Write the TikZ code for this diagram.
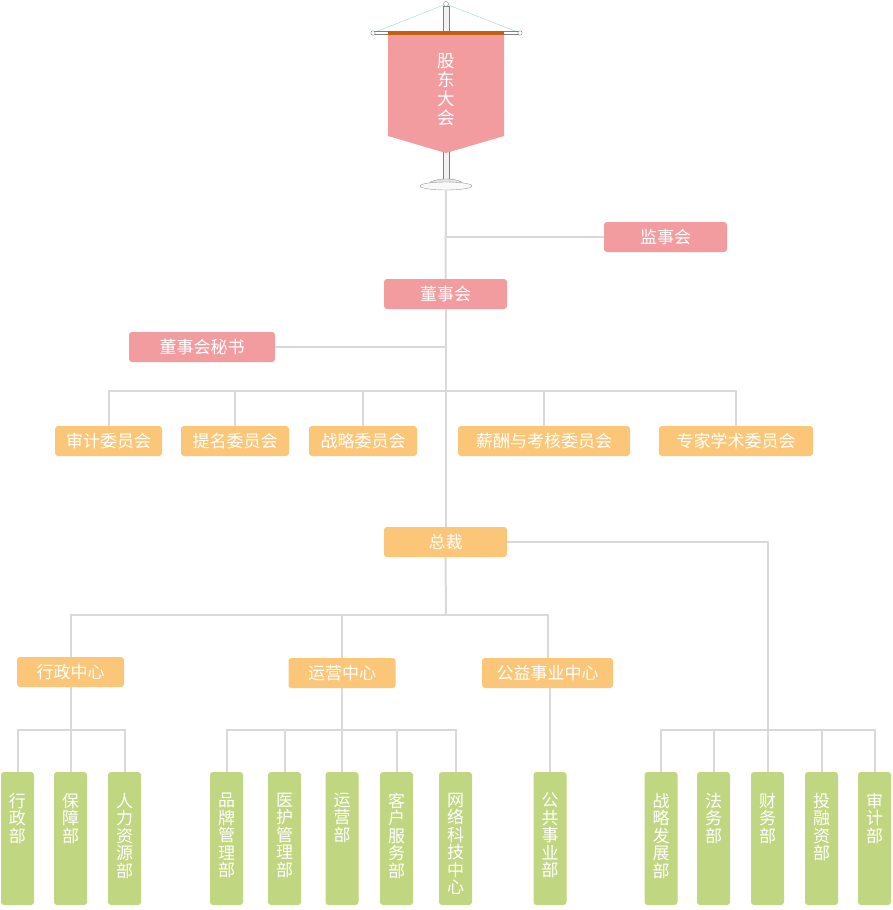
\documentclass[tikz,border=0pt]{standalone}
\usepackage{fontspec}
\newfontfamily\cjk{Noto Sans CJK SC}

\definecolor{dongpink}{HTML}{F29C9F}
\definecolor{weiorange}{HTML}{FBC677}
\definecolor{bugreen}{HTML}{C0D680}
\definecolor{linegray}{HTML}{D9D9D9}
\definecolor{barbrown}{HTML}{C3600F}
\definecolor{ropegreen}{HTML}{9FD8C0}

\newcommand{\vtxt}[1]{\parbox[c][133pt][t]{33pt}{\centering\vspace*{21pt}#1}}

\tikzset{
 box/.style={rounded corners=3pt, inner sep=0pt, minimum height=30pt, text=white,
   font=\cjk\fontsize{17}{17.5}\selectfont},
 pinkbox/.style={box, fill=dongpink},
 orangebox/.style={box, fill=weiorange},
 greenbox/.style={box, fill=bugreen, minimum width=33pt},
 link/.style={draw=linegray, line width=2pt},
}

\begin{document}
\begin{tikzpicture}[x=1pt,y=-1pt]
 \useasboundingbox (0,0) rectangle (893,910);
 %旗
 \draw[ropegreen, thin] (373,33) -- (446,4) -- (520,33);
 \draw[gray, fill=gray!10] (443,6) rectangle (449,182); %旗竿
 \draw[gray, fill=white] (446,4) circle (2.5);
 \draw[gray, fill=white] (374,31.5) rectangle (519,34.5);
 \draw[gray, fill=white] (373,33) circle (2.2) (520,33) circle (2.2);
 \fill[dongpink] (388,34) -- (504,34) -- (504,136) -- (446,153) -- (388,136) -- cycle;
 \fill[barbrown] (388,31) rectangle (504,34.5);
 \node[text=white, font=\cjk\fontsize{17.5}{19}\selectfont, align=center]
   (gudong) at (446,90) {股\\东\\大\\会};
 \draw[gray!80, fill=gray!20] (428,185) .. controls (430,177) and (462,177) .. (464,185);
 \draw[gray!80, fill=gray!5] (446,186) ellipse (26 and 4); %底座
 \coordinate (base) at (446,190);

 %董事会
 \node[pinkbox, minimum width=123pt] (jianshi) at (665.5,237) {监事会};
 \node[pinkbox, minimum width=123pt] (dongshi) at (445.5,294) {董事会};
 \node[pinkbox, minimum width=146pt] (mishu) at (202,347) {董事会秘书};
 \node[orangebox, minimum width=107pt] (shenji) at (108.5,441) {审计委员会};
 \node[orangebox, minimum width=108pt] (timing) at (235,441) {提名委员会};
 \node[orangebox, minimum width=108pt] (zhanlue) at (363,441) {战略委员会};
 \node[orangebox, minimum width=172pt] (xinchou) at (544,441) {薪酬与考核委员会};
 \node[orangebox, minimum width=154pt] (zhuanjia) at (736,441) {专家学术委员会};

 %总裁
 \node[orangebox, minimum width=123pt] (zongcai) at (445.5,542) {总裁};
 \node[orangebox, minimum width=107pt] (xingzheng) at (70.5,672) {行政中心};
 \node[orangebox, minimum width=107pt] (yunying) at (342,673) {运营中心};
 \node[orangebox, minimum width=131pt] (gongyi) at (547.5,673) {公益事业中心};

 %部门
 \node[greenbox] (xzb) at (17.5,838.5) {\vtxt{行\\政\\部}};
 \node[greenbox] (baozhang) at (70.5,838.5) {\vtxt{保\\障\\部}};
 \node[greenbox] (renli) at (124.5,838.5) {\vtxt{人\\力\\资\\源\\部}};
 \node[greenbox] (pinpai) at (226.5,838.5) {\vtxt{品\\牌\\管\\理\\部}};
 \node[greenbox] (yihu) at (284.5,838.5) {\vtxt{医\\护\\管\\理\\部}};
 \node[greenbox] (yyb) at (342,838.5) {\vtxt{运\\营\\部}};
 \node[greenbox] (kehu) at (396.5,838.5) {\vtxt{客\\户\\服\\务\\部}};
 \node[greenbox] (wangluo) at (455.5,838.5) {\vtxt{网\\络\\科\\技\\中\\心}};
 \node[greenbox] (gonggong) at (550,838.5) {\vtxt{公\\共\\事\\业\\部}};
 \node[greenbox] (zlfz) at (661,838.5) {\vtxt{战\\略\\发\\展\\部}};
 \node[greenbox] (fawu) at (713.5,838.5) {\vtxt{法\\务\\部}};
 \node[greenbox] (caiwu) at (767.5,838.5) {\vtxt{财\\务\\部}};
 \node[greenbox] (touzi) at (821.5,838.5) {\vtxt{投\\融\\资\\部}};
 \node[greenbox] (shenjibu) at (874.5,838.5) {\vtxt{审\\计\\部}};

 %连线
 \draw[link] (base) -- (dongshi.north);
 \draw[link] (jianshi.west) -- (jianshi.west -| base);
 \draw[link] (dongshi.south) -- (zongcai.north);
 \draw[link] (mishu.east) -- (mishu.east -| dongshi.south);
 \draw[link] (shenji.north) -- ++(0,-35) -| (zhuanjia.north);
 \foreach \n in {timing,zhanlue,xinchou} \draw[link] (\n.north) -- ++(0,-35);
 \coordinate (hub) at (446,615);
 \draw[link] (zongcai.south) -- (hub);
 \draw[link] (xingzheng.north) |- (hub) -| (gongyi.north);
 \draw[link] (yunying.north) -- (yunying.north |- hub);
 \draw[link] (zongcai.east) -| (caiwu.north);
 \draw[link] (xingzheng.south) -- (baozhang.north);
 \draw[link] (xzb.north) -- ++(0,-42) -| (renli.north);
 \draw[link] (yunying.south) -- (yyb.north);
 \draw[link] (pinpai.north) -- ++(0,-42) -| (wangluo.north);
 \foreach \n in {yihu,kehu} \draw[link] (\n.north) -- ++(0,-42);
 \draw[link] (gonggong.north) -- (gonggong.north |- gongyi.south);
 \draw[link] (zlfz.north) -- ++(0,-42) -| (shenjibu.north);
 \foreach \n in {fawu,touzi} \draw[link] (\n.north) -- ++(0,-42);
\end{tikzpicture}
\end{document}
